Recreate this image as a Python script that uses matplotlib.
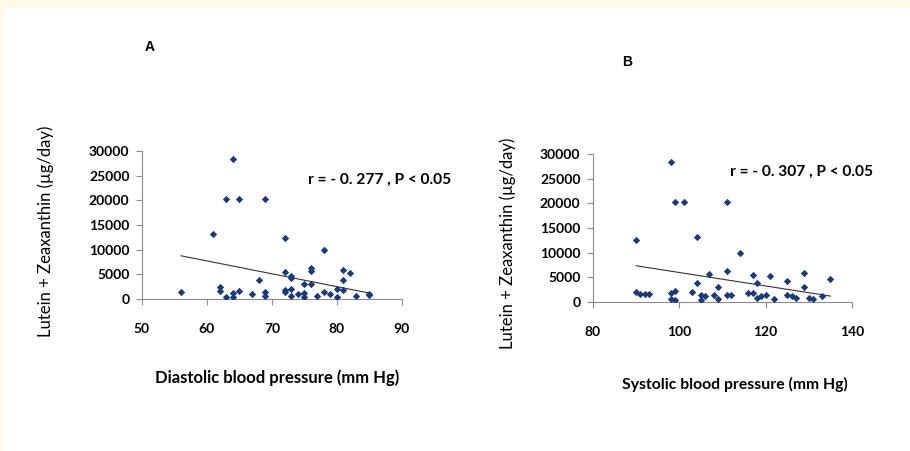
import matplotlib
matplotlib.use('Agg')
import matplotlib.pyplot as plt
from matplotlib.patches import Rectangle

# Panel A: diastolic blood pressure vs lutein + zeaxanthin intake
dia_x = [56, 61, 62, 62, 63, 63, 64, 64, 64, 65, 65, 67, 68, 69, 69, 69,
         72, 72, 72, 72, 73, 73, 73, 73, 74, 75, 75, 75, 76, 76, 76, 77,
         78, 78, 79, 80, 80, 81, 81, 81, 82, 83, 85, 85]
dia_y = [1500, 13100, 2400, 1700, 20200, 500, 28400, 1300, 400, 20200, 1700,
         1100, 3800, 20200, 1400, 700, 12300, 5400, 1900, 1400, 4600, 4200,
         2000, 700, 1100, 3000, 1300, 500, 6300, 5700, 3000, 700, 9900, 1400,
         1100, 2000, 500, 5900, 3800, 1800, 5300, 700, 1100, 900]
dia_trend_x = [56, 85]
dia_trend_y = [8770, 1200]
dia_text = 'r = - 0. 277 , P < 0.05'

# Panel B: systolic blood pressure
sys_x = [90, 90, 91, 92, 93, 98, 98, 98, 99, 99, 99, 101, 104, 104, 103, 105,
         105, 106, 107, 108, 109, 109, 111, 111, 111, 112, 114, 116, 117, 117,
         118, 118, 119, 120, 121, 122, 125, 125, 126, 127, 129, 129, 130, 131,
         133, 135]
sys_y = [12500, 2000, 1600, 1700, 1700, 28400, 1750, 600, 20300, 2300, 500,
         20300, 13200, 3800, 2000, 1400, 500, 1200, 5700, 1500, 3000, 600,
         20200, 6300, 1400, 1350, 9900, 1800, 5500, 1800, 3800, 900, 1150,
         1500, 5300, 700, 4200, 1350, 1200, 750, 5900, 3000, 900, 600, 1300,
         4700]
sys_trend_x = [90, 135]
sys_trend_y = [7350, 1200]
sys_text = 'r = - 0. 307 , P < 0.05'

ylabel = 'Lutein + Zeaxanthin (µg/day)'
font = ['Lato', 'DejaVu Sans']
marker_color = '#1c3a78'
axis_color = '#8c8c8c'

fig = plt.figure(figsize=(9.1, 4.51), dpi=100)
fig.patch.set_facecolor('white')

# cream frame along the top and left edge
fig.patches.append(Rectangle((0, 1 - 8 / 451), 1, 8 / 451, transform=fig.transFigure,
                             facecolor='#fffbe7', edgecolor='none', zorder=0))
fig.patches.append(Rectangle((0, 0), 4 / 910, 1, transform=fig.transFigure,
                             facecolor='#fffbe7', edgecolor='none', zorder=0))


def panel(rect, xs, ys, tx, ty, xlim, xticks, xlabel, xlab_size, note, note_pos,
          ylab_pos, xlab_pos):
    ax = fig.add_axes(rect)
    ax.scatter(xs, ys, marker='D', s=14, color=marker_color, zorder=3, linewidths=0)
    ax.plot(tx, ty, color='#333333', lw=0.8, zorder=2)
    ax.set_xlim(*xlim)
    ax.set_ylim(0, 30000)
    ax.set_xticks(xticks)
    ax.set_yticks(range(0, 30001, 5000))
    for s in ('top', 'right'):
        ax.spines[s].set_visible(False)
    for s in ('left', 'bottom'):
        ax.spines[s].set_color(axis_color)
        ax.spines[s].set_linewidth(0.8)
    ax.tick_params(direction='out', length=4, width=0.8, color=axis_color,
                   labelsize=10, pad=5)
    for lab in ax.get_xticklabels() + ax.get_yticklabels():
        lab.set_family(font)
        lab.set_fontweight('bold')
    ax.tick_params(axis='x', pad=13)
    fig.text(ylab_pos[0] / 910, 1 - ylab_pos[1] / 451, ylabel, rotation=90,
             ha='center', va='center', fontsize=12, family=font)
    fig.text(xlab_pos[0] / 910, 1 - xlab_pos[1] / 451, xlabel, ha='left',
             va='center', fontsize=xlab_size, fontweight='bold', family=font)
    fig.text(note_pos[0] / 910, 1 - note_pos[1] / 451, note, ha='left',
             va='center', fontsize=11.2, fontweight='bold', family=font)
    return ax


panel([0.156, 0.337, 0.2857, 0.328], dia_x, dia_y, dia_trend_x, dia_trend_y,
      (50, 90), [50, 60, 70, 80, 90], 'Diastolic blood pressure (mm Hg)', 12,
      dia_text, (308, 180), (46, 231), (155, 378))
panel([0.6516, 0.3304, 0.2846, 0.328], sys_x, sys_y, sys_trend_x, sys_trend_y,
      (80, 140), [80, 100, 120, 140], 'Systolic blood pressure (mm Hg)', 11.3,
      sys_text, (730, 172), (508, 243), (622, 384))

fig.text(150 / 910, 1 - 47 / 451, 'A', ha='center', va='center', fontsize=10,
         fontweight='bold', family=['Liberation Sans', 'DejaVu Sans'])
fig.text(627 / 910, 1 - 62 / 451, 'B', ha='center', va='center', fontsize=10,
         fontweight='bold', family=['Liberation Sans', 'DejaVu Sans'])

fig.savefig('out.png', dpi=100, facecolor=fig.get_facecolor())
